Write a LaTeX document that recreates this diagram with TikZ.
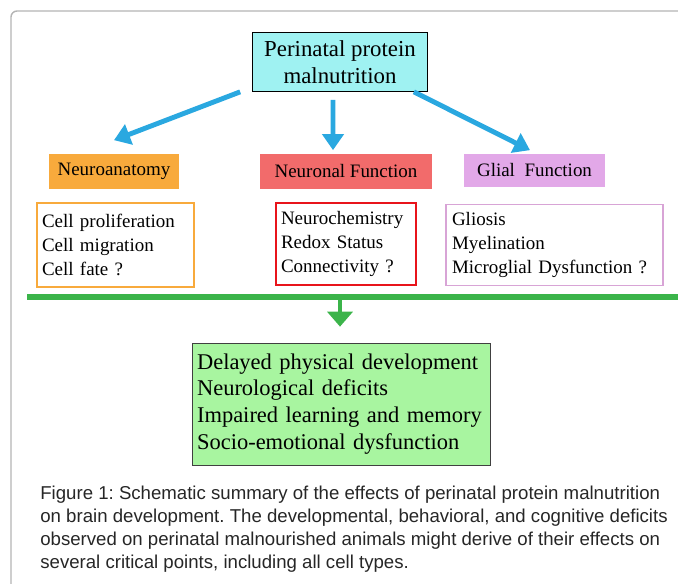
\documentclass[tikz,border=0pt]{standalone}
\usepackage{fontspec}
\setmainfont{Liberation Serif}
\newfontfamily\capfont{Liberation Sans}
\usetikzlibrary{arrows.meta,positioning}
\frenchspacing

\definecolor{cyanfill}{HTML}{9FF2F2}
\definecolor{arrowblue}{HTML}{2AA8E0}
\definecolor{anatorange}{HTML}{F8AA3C}
\definecolor{neuronred}{HTML}{F26B6B}
\definecolor{glialpink}{HTML}{E2A8E8}
\definecolor{glialedge}{HTML}{D8A4D6}
\definecolor{boxred}{HTML}{E8141B}
\definecolor{bargreen}{HTML}{3BB44A}
\definecolor{effectfill}{HTML}{A8F5A0}
\definecolor{framegray}{HTML}{B4B4B4}

\begin{document}
\begin{tikzpicture}[x=0.02cm, y=-0.02cm,
    header/.style={inner sep=0pt, minimum height=0.7cm, font=\fontsize{10.8}{12}\selectfont},
    listbox/.style={fill=white, line width=1.1pt, align=left, inner xsep=0.1cm,
        font=\fontsize{10.8}{13.6}\selectfont},
    bluearrow/.style={arrowblue, line width=2.8pt, -{Triangle[length=0.32cm, width=0.42cm]}},
    greenarrow/.style={bargreen, line width=2.8pt, -{Triangle[length=0.3cm, width=0.5cm]}}]
    \useasboundingbox (0,0) rectangle (678,583);

    % outer frame
    \draw[framegray, line width=0.8pt, rounded corners=0.12cm] (11,590) -- (11,11) -- (690,11);

    % cause
    \node[draw, fill=cyanfill, minimum width=3.5cm, minimum height=1.18cm, align=center,
        font=\fontsize{13}{15}\selectfont] (cause) at (340,62) {Perinatal protein\\malnutrition};

    % the three levels
    \node[header, fill=anatorange, minimum width=2.6cm] (anat) at (114,171) {Neuroanatomy};
    \node[header, fill=neuronred, minimum width=3.44cm] (neuron) at (346,171) {Neuronal Function};
    \node[header, fill=glialpink, minimum width=2.82cm, minimum height=0.66cm] (glial) at (534.5,170) {Glial\ \ Function};

    \node[listbox, draw=anatorange, text width=2.94cm, minimum height=1.68cm] (anatlist) at (115.5,245)
        {Cell proliferation\\Cell migration\\Cell fate ?};
    \node[listbox, draw=boxred, text width=2.6cm, minimum height=1.64cm] (neuronlist) at (346,244)
        {Neurochemistry\\Redox Status\\Connectivity ?};
    \node[listbox, draw=glialedge, text width=4.1cm, minimum height=1.62cm, inner xsep=0.12cm] (gliallist) at (554.5,245)
        {Gliosis\\Myelination\\Microglial Dysfunction ?};

    \draw[bluearrow] ([xshift=-0.24cm]cause.south west) -- ([yshift=0.26cm]anat.north);
    \draw[bluearrow] ([xshift=-0.14cm, yshift=-0.16cm]cause.south) -- ([xshift=-0.26cm, yshift=0.06cm]neuron.north);
    \draw[bluearrow] ([xshift=-0.28cm]cause.south east) -- ([xshift=-0.09cm, yshift=0.06cm]glial.north);

    % outcome
    \draw[bargreen, line width=3.4pt] (27,297) coordinate (barl) -- (690,297) coordinate (barr);
    \coordinate (barmid) at (340,297);
    \node[draw=black!75, fill=effectfill, text width=5.76cm, minimum height=2.44cm, align=left,
        inner xsep=0.1cm, font=\fontsize{12.8}{15.3}\selectfont] (effects) at (341,404)
        {Delayed physical development\\Neurological deficits\\Impaired learning and memory\\Socio-emotional dysfunction};
    \draw[greenarrow, shorten >=0.32cm] (barmid) -- (barmid |- effects.north);

    % caption
    \node[anchor=north west, inner sep=0pt, align=left, text=black!85,
        font=\capfont\fontsize{10.6}{13.1}\selectfont] (caption) at (40,486)
        {Figure 1: Schematic summary of the effects of perinatal protein malnutrition\\
        on brain development. The developmental, behavioral, and cognitive deficits\\
        observed on perinatal malnourished animals might derive of their effects on\\
        several critical points, including all cell types.};
\end{tikzpicture}
\end{document}
